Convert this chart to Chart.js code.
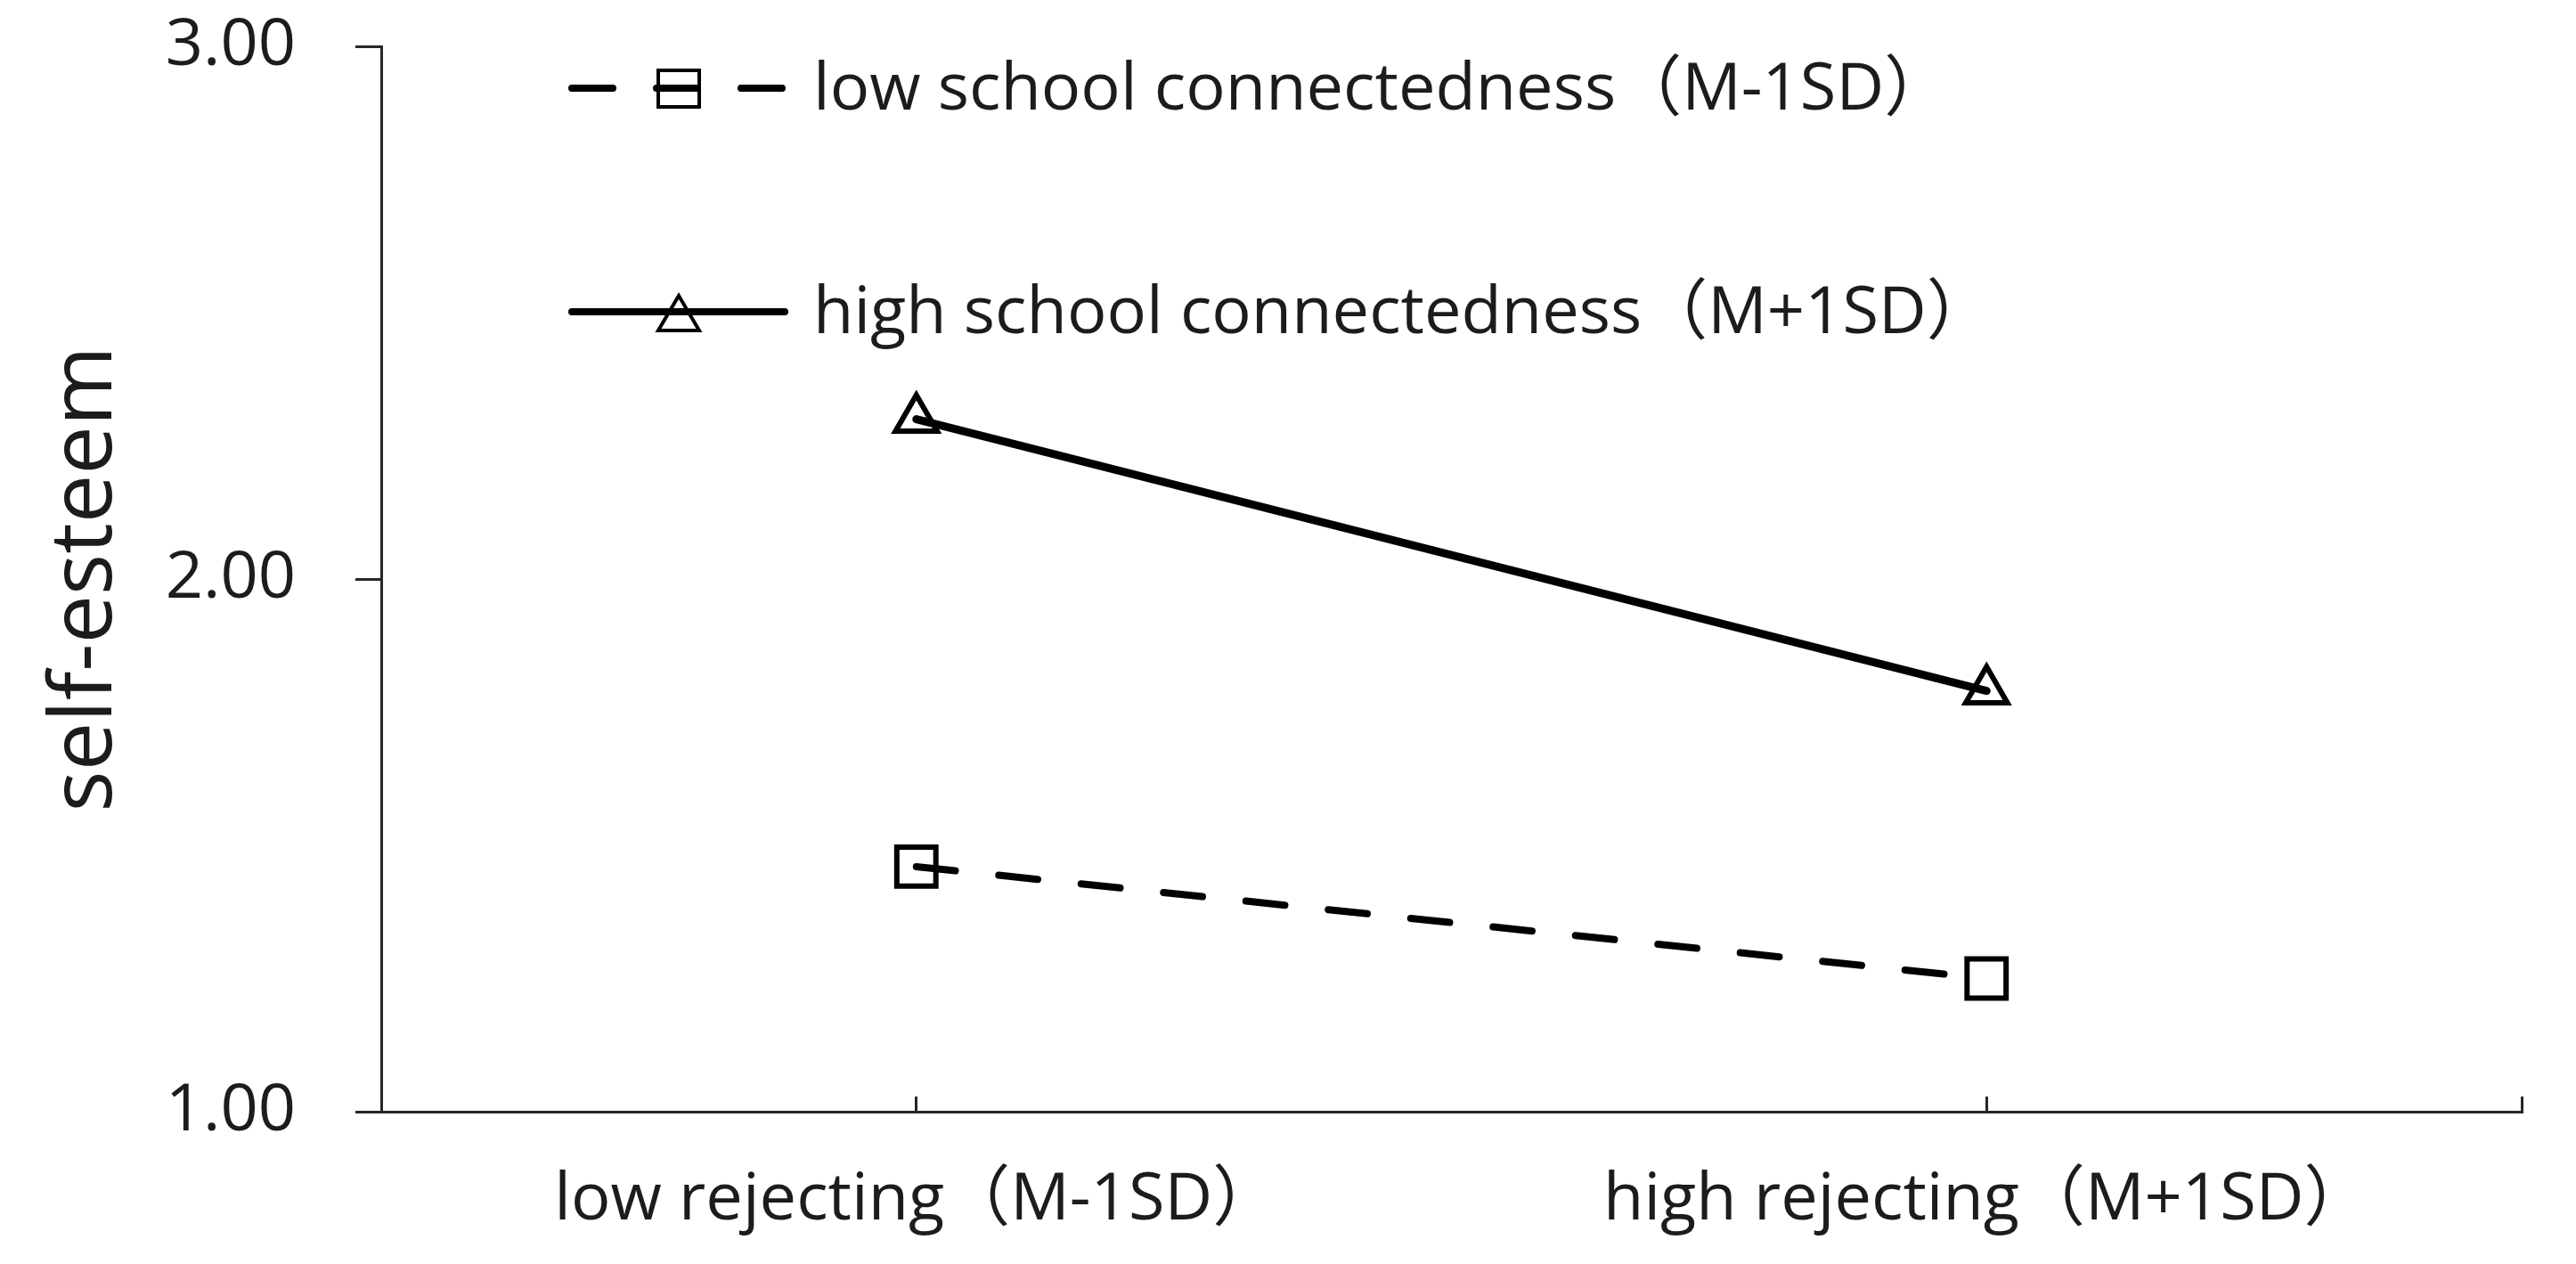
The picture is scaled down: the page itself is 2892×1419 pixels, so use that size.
<!DOCTYPE html>
<html>
<head>
<meta charset="utf-8">
<script src="https://cdn.jsdelivr.net/npm/chart.js@4.4.1/dist/chart.umd.min.js"></script>
<style>
  html, body { margin: 0; padding: 0; background: #ffffff; }
  #wrap { width: 2892px; height: 1419px; position: relative; }
</style>
</head>
<body>
<div id="wrap"><canvas id="c"></canvas></div>
<script>
// ---- data ----
const categories = ['low rejecting（M-1SD）', 'high rejecting（M+1SD）'];
const categoryPositions = [1, 3];
const xAxisEnd = 4;
const seriesNames = ['low school connectedness（M-1SD）', 'high school connectedness（M+1SD）'];
const lowConnectedness = [1.46, 1.25];
const highConnectedness = [2.30, 1.79];
const yTickValues = [1, 2, 3];
const yTickLabels = ['1.00', '2.00', '3.00'];
const yTitle = 'self-esteem';

// ---- style ----
const FONT = "'Open Sans', 'Noto Sans CJK SC', sans-serif";
const AXIS_COLOR = '#262626';
const TEXT_COLOR = '#1c1c1c';

const toPoints = (vals) => vals.map((v, i) => ({ x: categoryPositions[i], y: v }));

const legendLayout = { x0: 638, x1: 885, markerX: 762, textX: 913, rows: [99, 350] };

const insideLegend = {
  id: 'insideLegend',
  afterDatasetsDraw(chart) {
    const ctx = chart.ctx;
    chart.data.datasets.forEach((ds, i) => {
      const y = legendLayout.rows[i];
      ctx.save();
      // line sample
      ctx.strokeStyle = ds.borderColor;
      ctx.lineWidth = 8;
      ctx.lineCap = 'round';
      ctx.setLineDash(ds.borderDash ? [46, 49] : []);
      ctx.beginPath();
      ctx.moveTo(legendLayout.x0 + 4, y);
      ctx.lineTo(legendLayout.x1 - 4, y);
      ctx.stroke();
      ctx.setLineDash([]);
      // marker
      ctx.lineWidth = 4;
      ctx.lineCap = 'butt';
      ctx.lineJoin = 'miter';
      const mx = legendLayout.markerX;
      ctx.beginPath();
      if (ds.pointStyle === 'rect') {
        ctx.rect(mx - 23, y - 20, 46, 41);
      } else {
        ctx.moveTo(mx, y - 18);
        ctx.lineTo(mx + 23, y + 21);
        ctx.lineTo(mx - 23, y + 21);
        ctx.closePath();
      }
      ctx.stroke();
      // text
      ctx.fillStyle = TEXT_COLOR;
      ctx.font = '74px ' + FONT;
      ctx.textBaseline = 'middle';
      ctx.textAlign = 'left';
      ctx.fillText(ds.label, legendLayout.textX, y + 3);
      ctx.restore();
    });
  }
};

new Chart(document.getElementById('c'), {
  type: 'line',
  data: {
    datasets: [
      {
        label: seriesNames[0],
        data: toPoints(lowConnectedness),
        borderColor: '#000000',
        borderWidth: 8,
        borderDash: [44, 49],
        borderCapStyle: 'round',
        pointStyle: 'rect',
        pointRadius: 31,
        pointBorderWidth: 6,
        pointBorderColor: '#000000',
        pointBackgroundColor: 'rgba(0,0,0,0)',
        fill: false,
        tension: 0
      },
      {
        label: seriesNames[1],
        data: toPoints(highConnectedness),
        borderColor: '#000000',
        borderWidth: 9,
        borderCapStyle: 'round',
        pointStyle: 'triangle',
        pointRadius: 27,
        pointBorderWidth: 6,
        pointBorderColor: '#000000',
        pointBackgroundColor: 'rgba(0,0,0,0)',
        fill: false,
        tension: 0
      }
    ]
  },
  options: {
    responsive: true,
    maintainAspectRatio: false,
    animation: false,
    events: [],
    layout: { padding: { top: 52, right: 61, bottom: 0, left: 0 } },
    plugins: {
      legend: { display: false },
      tooltip: { enabled: false },
      title: { display: false }
    },
    scales: {
      x: {
        type: 'linear',
        position: 'bottom',
        min: 0,
        max: xAxisEnd,
        afterBuildTicks: (scale) => {
          scale.ticks = categoryPositions.concat([xAxisEnd]).map(v => ({ value: v }));
        },
        afterFit: (scale) => {
          scale.height = 171;
          scale.paddingLeft = 0;
          scale.paddingRight = 0;
        },
        border: { display: true, color: AXIS_COLOR, width: 3 },
        grid: {
          display: true,
          drawOnChartArea: false,
          drawTicks: true,
          tickLength: -17,
          tickWidth: 3,
          tickColor: AXIS_COLOR
        },
        ticks: {
          autoSkip: false,
          maxRotation: 0,
          minRotation: 0,
          padding: 73,
          color: TEXT_COLOR,
          font: { family: FONT, size: 74 },
          callback: (v) => {
            const idx = categoryPositions.indexOf(v);
            return idx >= 0 ? categories[idx] : '';
          }
        }
      },
      y: {
        type: 'linear',
        position: 'left',
        min: yTickValues[0],
        max: yTickValues[yTickValues.length - 1],
        afterBuildTicks: (scale) => {
          scale.ticks = yTickValues.map(v => ({ value: v }));
        },
        afterFit: (scale) => {
          scale.width = 428;
          scale.paddingTop = 40;
          scale.paddingBottom = 40;
        },
        border: { display: true, color: AXIS_COLOR, width: 3 },
        grid: {
          display: true,
          drawOnChartArea: false,
          drawTicks: true,
          tickLength: 29,
          tickWidth: 3,
          tickColor: AXIS_COLOR
        },
        ticks: {
          padding: 67,
          color: TEXT_COLOR,
          font: { family: FONT, size: 74 },
          callback: (v) => {
            const idx = yTickValues.indexOf(v);
            return idx >= 0 ? yTickLabels[idx] : '';
          }
        },
        title: {
          display: true,
          text: yTitle,
          color: TEXT_COLOR,
          font: { family: FONT, size: 97 },
          padding: { top: 39, bottom: 0 }
        }
      }
    }
  },
  plugins: [insideLegend]
});
</script>
</body>
</html>
